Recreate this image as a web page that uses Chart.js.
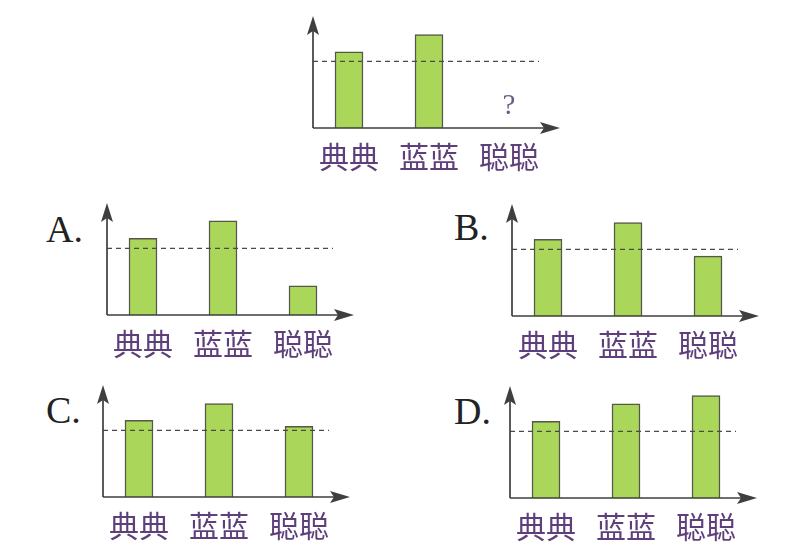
<!DOCTYPE html>
<html>
<head>
<meta charset="utf-8">
<script src="https://cdn.jsdelivr.net/npm/chart.js@4.4.1/dist/chart.umd.min.js"></script>
<style>
    body { margin: 0; background: #fff; width: 791px; height: 560px; position: relative; overflow: hidden; }
    .box { position: absolute; width: 270px; height: 163px; }
    .letter { position: absolute; font-family: "Liberation Serif", "DejaVu Serif", serif; font-size: 38px; line-height: 38px; color: #222; }
</style>
</head>
<body>
<div class="box" style="left:299px;top:10px"><canvas id="chartTop" width="270" height="163"></canvas></div>

<div class="letter" style="left:46px;top:210px">A.</div>
<div class="box" style="left:93px;top:197px"><canvas id="chartA" width="270" height="163"></canvas></div>

<div class="letter" style="left:454px;top:208px">B.</div>
<div class="box" style="left:498px;top:198px"><canvas id="chartB" width="270" height="163"></canvas></div>

<div class="letter" style="left:46px;top:391px">C.</div>
<div class="box" style="left:89px;top:379px"><canvas id="chartC" width="270" height="163"></canvas></div>

<div class="letter" style="left:454px;top:392px">D.</div>
<div class="box" style="left:496px;top:380px"><canvas id="chartD" width="270" height="163"></canvas></div>

<script>
// Data (y axis runs 0..10 up to the arrow tip)
const categories = ["典典", "蓝蓝", "聪聪"];
const topValues = [6.8, 8.35, null];   // 聪聪 unknown, shown as "?"
const valuesA = [6.85, 8.4, 2.6];
const valuesB = [6.85, 8.35, 5.35];
const valuesC = [6.85, 8.35, 6.3];
const valuesD = [6.85, 8.4, 9.15];
const averageLine = 5.95;
const questionLevel = 1.9;

const barFill = "#aad65a";
const barEdge = "#55574a";
const axisColor = "#3f3f3f";
const labelColor = "#5e3f7c";

// Draws the arrow axes, the dashed guide line and the "?" mark
const sketchPlugin = {
    id: "sketch",
    afterDatasetsDraw(chart, args, opts) {
        const { ctx, chartArea, scales } = chart;
        const ax = chartArea.left + 4;
        const ay = chartArea.bottom;
        const xTip = ax + 247;
        const yTip = chartArea.top;

        ctx.save();

        // dashed line
        const yAvg = scales.y.getPixelForValue(averageLine);
        ctx.strokeStyle = "#4a4a4a";
        ctx.lineWidth = 1.2;
        ctx.setLineDash([5, 4]);
        ctx.beginPath();
        ctx.moveTo(ax, yAvg);
        ctx.lineTo(ax + 226, yAvg);
        ctx.stroke();

        // axes
        ctx.setLineDash([]);
        ctx.strokeStyle = axisColor;
        ctx.lineWidth = 1.7;
        ctx.beginPath();
        ctx.moveTo(ax, ay);
        ctx.lineTo(ax, yTip + 12);
        ctx.moveTo(ax, ay);
        ctx.lineTo(xTip - 12, ay);
        ctx.stroke();

        // arrow heads
        ctx.fillStyle = axisColor;
        ctx.beginPath();
        ctx.moveTo(ax, yTip);
        ctx.lineTo(ax - 6, yTip + 19);
        ctx.lineTo(ax, yTip + 15);
        ctx.lineTo(ax + 6, yTip + 19);
        ctx.closePath();
        ctx.fill();
        ctx.beginPath();
        ctx.moveTo(xTip, ay);
        ctx.lineTo(xTip - 20, ay - 6);
        ctx.lineTo(xTip - 16, ay);
        ctx.lineTo(xTip - 20, ay + 6);
        ctx.closePath();
        ctx.fill();

        if (opts.question) {
            ctx.fillStyle = "#6d5b8e";
            ctx.font = "29px 'Liberation Serif', serif";
            ctx.textAlign = "center";
            ctx.textBaseline = "middle";
            ctx.fillText("?", scales.x.getPixelForValue(2), scales.y.getPixelForValue(questionLevel));
        }

        ctx.restore();
    }
};

function makeChart(id, values, question) {
    return new Chart(document.getElementById(id), {
        type: "bar",
        data: {
            labels: categories,
            datasets: [{
                data: values,
                backgroundColor: barFill,
                borderColor: barEdge,
                borderWidth: 1.5,
                barThickness: 28
            }]
        },
        options: {
            responsive: false,
            animation: false,
            layout: { padding: { left: 10, top: 6, right: 20, bottom: 0 } },
            plugins: {
                legend: { display: false },
                tooltip: { enabled: false },
                sketch: { question: question }
            },
            scales: {
                x: {
                    offset: true,
                    grid: { display: false },
                    border: { display: false },
                    ticks: {
                        color: labelColor,
                        font: { family: "'Noto Sans CJK SC', sans-serif", size: 30 },
                        padding: 3,
                        maxRotation: 0,
                        autoSkip: false
                    },
                    afterFit: s => { s.height = 45; }
                },
                y: { display: false, min: 0, max: 10 }
            }
        },
        plugins: [sketchPlugin]
    });
}

makeChart("chartTop", topValues, true);
makeChart("chartA", valuesA, false);
makeChart("chartB", valuesB, false);
makeChart("chartC", valuesC, false);
makeChart("chartD", valuesD, false);
</script>
</body>
</html>
